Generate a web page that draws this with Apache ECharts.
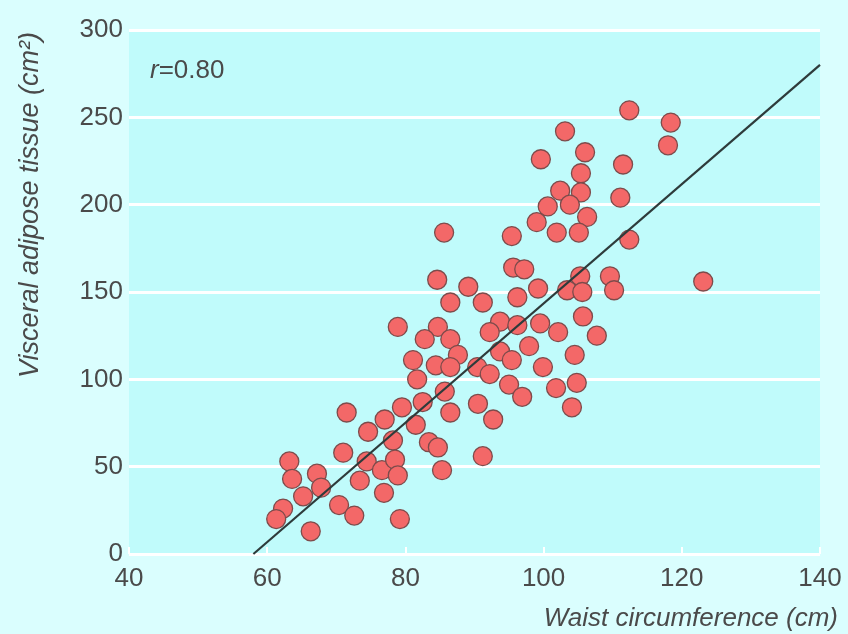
<!DOCTYPE html>
<html>
<head>
<meta charset="utf-8">
<script src="https://cdn.jsdelivr.net/npm/echarts@6/dist/echarts.min.js"></script>
<style>
  html, body { margin: 0; padding: 0; background: #dafefe; }
  #chart { width: 848px; height: 634px; }
</style>
</head>
<body>
<div id="chart"></div>
<script>
// waist circumference (cm) and visceral adipose tissue (cm²)
const waist = [
    112.4, 118.4, 103.1, 118.0, 106.0, 99.6, 111.5, 105.4, 102.4, 105.4,
    111.1, 100.6, 103.8, 106.3, 99.0, 101.9, 105.1, 112.4, 85.6, 95.4,
    95.6, 97.2, 105.3, 109.6, 123.1, 84.6, 89.1, 99.2, 103.4, 105.6,
    110.2, 86.5, 91.2, 96.2, 105.7, 78.9, 84.7, 93.7, 96.2, 99.5,
    82.8, 86.5, 92.2, 102.1, 107.7, 87.6, 81.1, 84.4, 86.5, 90.4,
    93.7, 95.4, 97.9, 99.9, 104.5, 81.7, 92.2, 95.0, 96.9, 101.8,
    104.8, 85.7, 82.5, 79.5, 90.5, 86.5, 92.7, 104.1, 71.5, 77.0,
    74.6, 81.5, 78.2, 83.4, 84.7, 71.0, 74.4, 76.6, 78.5, 91.2,
    85.3, 78.9, 63.2, 67.2, 63.6, 73.4, 76.9, 67.8, 65.2, 62.3,
    70.4, 72.6, 61.3, 66.3, 79.2
];
const vat = [
    254, 247, 242, 234, 230, 226, 223, 218, 208, 207,
    204, 199, 200, 193, 190, 184, 184, 180, 184, 182,
    164, 163, 159, 159, 156, 157, 153, 152, 151, 150,
    151, 144, 144, 147, 136, 130, 130, 133, 131, 132,
    123, 123, 127, 127, 125, 114, 111, 108, 107, 107,
    116, 111, 119, 107, 114, 100, 103, 97, 90, 95,
    98, 93, 87, 84, 86, 81, 77, 84, 81, 77,
    70, 74, 65, 64, 61, 58, 53, 48, 54, 56,
    48, 45, 53, 46, 43, 42, 35, 38, 33, 26,
    28, 22, 20, 13, 20
];
// fitted line end points
const fitX = [58, 140];
const fitY = [0, 280];
const xTicks = [40, 60, 80, 100, 120, 140];
const yTicks = [0, 50, 100, 150, 200, 250, 300];

const TEXT = '#4a4a4a';
const FONT = '"Liberation Sans", Arial, sans-serif';

const chart = echarts.init(document.getElementById('chart'));

chart.setOption({
    backgroundColor: '#dafefe',
    animation: false,
    grid: {
        left: 129, right: 28, top: 30, bottom: 80,
        show: true, backgroundColor: '#c0fbfb', borderWidth: 0,
    },
    xAxis: {
        type: 'value',
        min: xTicks[0], max: xTicks[xTicks.length - 1], interval: 20,
        axisLine: { show: false },
        axisTick: { show: true, inside: true, length: 7, lineStyle: { color: '#ffffff', width: 2 } },
        splitLine: { show: false },
        axisLabel: { color: TEXT, fontSize: 26, fontFamily: FONT, margin: 12 },
    },
    yAxis: {
        type: 'value',
        min: yTicks[0], max: yTicks[yTicks.length - 1], interval: 50,
        axisLine: { show: false },
        axisTick: { show: false },
        splitLine: { show: true, lineStyle: { color: '#ffffff', width: 3 } },
        axisLabel: { color: TEXT, fontSize: 26, fontFamily: FONT, margin: 6 },
    },
    graphic: [
        {
            type: 'text', left: 150, top: 58,
            style: {
                text: '{i|r}=0.80',
                rich: {
                    i: { fontStyle: 'italic', fontSize: 26, fontFamily: FONT, fill: TEXT },
                },
                fontSize: 26, fontFamily: FONT, fill: TEXT,
            },
        },
        {
            type: 'text', x: 30, y: 205, rotation: Math.PI / 2,
            style: {
                text: 'Visceral adipose tissue (cm²)',
                fontStyle: 'italic', fontSize: 27, fontFamily: FONT, fill: TEXT,
                align: 'center', verticalAlign: 'middle',
            },
        },
        {
            type: 'text', x: 838, y: 619,
            style: {
                text: 'Waist circumference (cm)',
                fontStyle: 'italic', fontSize: 26, fontFamily: FONT, fill: TEXT,
                align: 'right', verticalAlign: 'middle',
            },
        },
    ],
    series: [
        {
            type: 'scatter',
            symbolSize: 19,
            itemStyle: { color: '#f36868', borderColor: '#7d4b4b', borderWidth: 1.3, opacity: 1 },
            data: waist.map((w, i) => [w, vat[i]]),
            z: 2,
        },
        {
            type: 'line',
            symbol: 'none',
            lineStyle: { color: '#2e3b3b', width: 2.2 },
            data: fitX.map((x, i) => [x, fitY[i]]),
            z: 3,
        },
    ],
});
</script>
</body>
</html>
